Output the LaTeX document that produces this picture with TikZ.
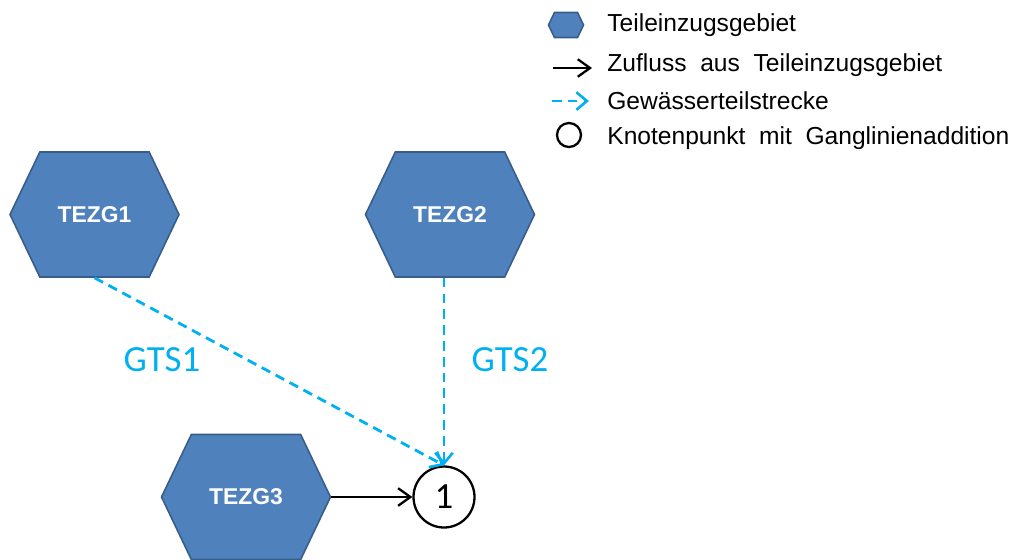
\documentclass[tikz,border=0pt]{standalone}
\usepackage{fontspec}
\setmainfont{Liberation Sans}
\newfontfamily\calib{Carlito}
\usepackage{tikz}
\usetikzlibrary{shapes.symbols, arrows.meta, positioning, calc}

\definecolor{tezgfill}{HTML}{4F81BD}
\definecolor{tezgline}{HTML}{385D8A}
\definecolor{gtsblue}{HTML}{00B0F0}

\tikzset{
  tezg/.style={signal, signal to=west and east, signal pointer angle=129,
    fill=tezgfill, draw=tezgline, line width=0.9pt, text=white,
    minimum width=3.38cm, minimum height=2.5cm, inner sep=0pt,
    font=\fontsize{13}{15}\selectfont\bfseries},
  knoten/.style={circle, draw=black, line width=1.3pt, minimum size=1.22cm,
    inner sep=0pt, font=\calib\fontsize{21}{24}\selectfont},
  zufluss/.style={-{Straight Barb[length=7pt, width=10pt, line width=1.3pt]}, line width=1.3pt},
  gts/.style={-{Straight Barb[length=6pt, width=10pt, line width=1.5pt]}, gtsblue,
    line width=1.6pt, dash pattern=on 5.5pt off 3.5pt},
  gtslabel/.style={text=gtsblue, font=\calib\fontsize{21}{24}\selectfont},
  legtext/.style={anchor=west, inner sep=0pt, font=\fontsize{14}{16}\selectfont}
}

\begin{document}
\begin{tikzpicture}[x=0.02cm, y=-0.02cm]
  \useasboundingbox (0,0) rectangle (1015,559);

  % Teileinzugsgebiete
  \node[tezg] (tezg1) at (94.5,214.5) {TEZG1};
  \node[tezg] (tezg2) at (450,214.5) {TEZG2};
  \node[tezg] (tezg3) at (246,497) {TEZG3};

  % Knotenpunkt
  \node[knoten] (k1) at (444,497) {1};

  % Gewaesserteilstrecken
  \draw[gts] (tezg1.south) -- (k1.north);
  \draw[gts] (tezg2.south -| k1.north) -- (k1.north);
  \node[gtslabel] (gts1) at (162,360) {GTS1};
  \node[gtslabel] (gts2) at (510,360) {GTS2};

  % Zufluss
  \draw[zufluss] (tezg3.east) -- (k1.west);

  % Legende
  \node[tezg, minimum width=0.7cm, minimum height=0.5cm] (lhex) at (566,25) {};
  \node[legtext] (ltext1) at (607,25) {Teileinzugsgebiet};
  \coordinate (lz1) at (553,68);
  \coordinate (lz2) at (592,68);
  \draw[zufluss] (lz1) -- (lz2);
  \node[legtext] (ltext2) at (607,65) {Zufluss\ \ aus\ \ Teileinzugsgebiet};
  \coordinate (lg1) at (552,101);
  \coordinate (lg2) at (589,101);
  \draw[gts] (lg1) -- (lg2);
  \node[legtext] (ltext3) at (607,101) {Gewässerteilstrecke};
  \node[knoten, minimum size=0.48cm] (lknoten) at (569,135) {};
  \node[legtext] (ltext4) at (607,138) {Knotenpunkt\ \ mit\ \ Ganglinienaddition};
\end{tikzpicture}
\end{document}
